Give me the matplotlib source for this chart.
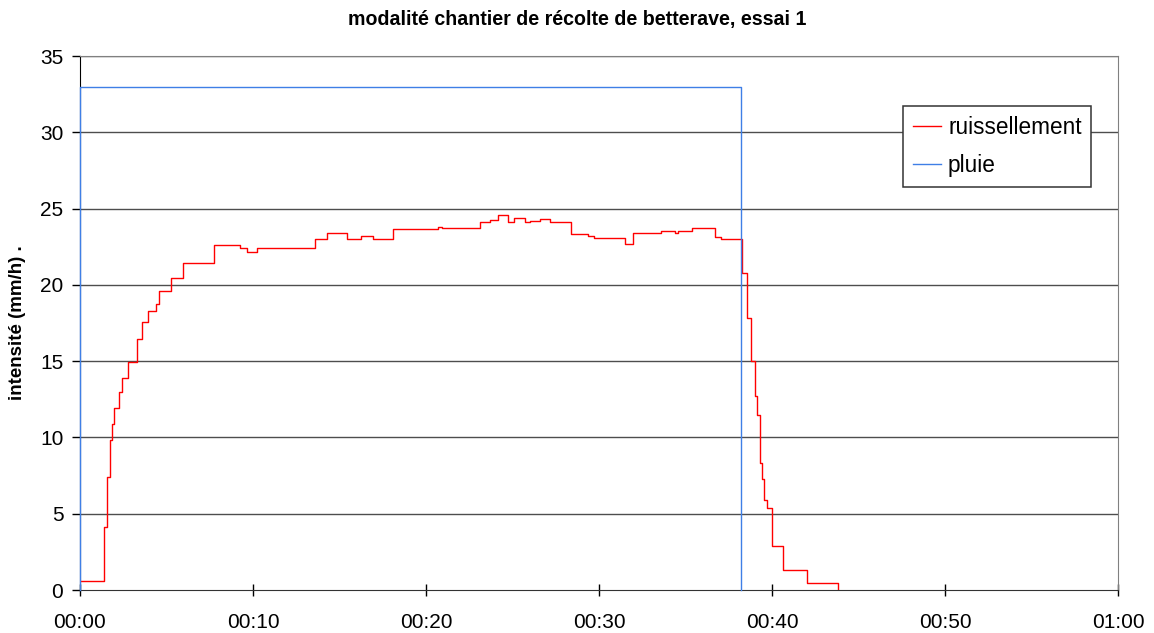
import numpy as np
import matplotlib
matplotlib.use('Agg')
import matplotlib.pyplot as plt

plt.rcParams['font.family'] = ['Liberation Sans', 'DejaVu Sans']

# runoff steps: start time (min) and intensity (mm/h)
ruis_t = [0, 1.39, 1.58, 1.74, 1.85, 1.99, 2.27, 2.40, 2.75, 3.29, 3.60, 3.95, 4.39, 4.58,
          5.24, 5.94, 7.74, 9.25, 9.63, 10.21, 13.57, 14.29, 15.44, 16.27, 16.91, 18.10,
          20.70, 20.95, 23.11, 23.69, 24.16, 24.74, 25.07, 25.71, 26.00, 26.58, 27.14,
          28.40, 29.36, 29.69, 31.49, 31.97, 33.60, 34.37, 34.56, 35.40, 36.73, 37.07,
          38.28, 38.57, 38.80, 38.99, 39.13, 39.29, 39.42, 39.56, 39.69, 40.02, 40.63,
          42.00, 43.81]
ruis_v = [0.61, 4.15, 7.43, 9.84, 10.87, 11.9, 12.98, 13.88, 14.97, 16.48, 17.59, 18.31, 18.75, 19.59,
          20.48, 21.44, 22.6, 22.44, 22.18, 22.4, 23.0, 23.43, 23.0, 23.18, 23.0, 23.69,
          23.82, 23.72, 24.11, 24.26, 24.57, 24.09, 24.35, 24.11, 24.21, 24.33, 24.09,
          23.36, 23.17, 23.04, 22.69, 23.43, 23.54, 23.39, 23.5, 23.74, 23.13, 23.0,
          20.8, 17.84, 15.03, 12.74, 11.45, 8.31, 7.3, 5.9, 5.38, 2.89, 1.29,
          0.48, 0.0]

# rain
pluie_t = [0, 0, 38.18, 38.18]
pluie_v = [0, 33, 33, 0]

xticks = [0, 10, 20, 30, 40, 50, 60]
xlabels = ['00:00', '00:10', '00:20', '00:30', '00:40', '00:50', '01:00']

fig = plt.figure(figsize=(11.54, 6.33), dpi=100)
ax = fig.add_axes([80/1154, 43/633, 1038/1154, 534/633])

ax.plot(ruis_t, ruis_v, color='#ff0000', lw=1.0, drawstyle='steps-post', label='ruissellement', zorder=3)
ax.plot(pluie_t, pluie_v, color='#3f7fe6', lw=1.0, label='pluie', zorder=4, clip_on=False)

ax.set_xlim(0, 60)
ax.set_ylim(0, 35)
ax.set_xticks(xticks)
ax.set_xticklabels(xlabels)
ax.set_yticks(range(0, 36, 5))
for y in range(5, 36, 5):
    ax.axhline(y, color='#4d4d4d', lw=1.0, zorder=1)

ax.spines['left'].set_color('black')
ax.spines['bottom'].set_color('#333333')
ax.spines['top'].set_color('#808080')
ax.spines['right'].set_color('#808080')
ax.tick_params(axis='y', direction='out', length=6, width=1, labelsize=15, pad=6)
ax.tick_params(axis='x', direction='inout', length=9, width=1, labelsize=15, pad=12)

ax.set_title('modalité chantier de récolte de betterave, essai 1', fontsize=14.1,
             fontweight='bold', pad=22, x=0.479)
ax.set_ylabel('intensité (mm/h) .', fontsize=13.5, fontweight='bold', labelpad=10)

leg = ax.legend(loc='upper right', bbox_to_anchor=(0.974, 0.906), borderaxespad=0,
                fontsize=16.3, fancybox=False, framealpha=1, edgecolor='#333333',
                handlelength=1.25, handletextpad=0.3, borderpad=0.42, labelspacing=0.68)
leg.get_frame().set_linewidth(1.1)

fig.savefig('out.png', dpi=100)
